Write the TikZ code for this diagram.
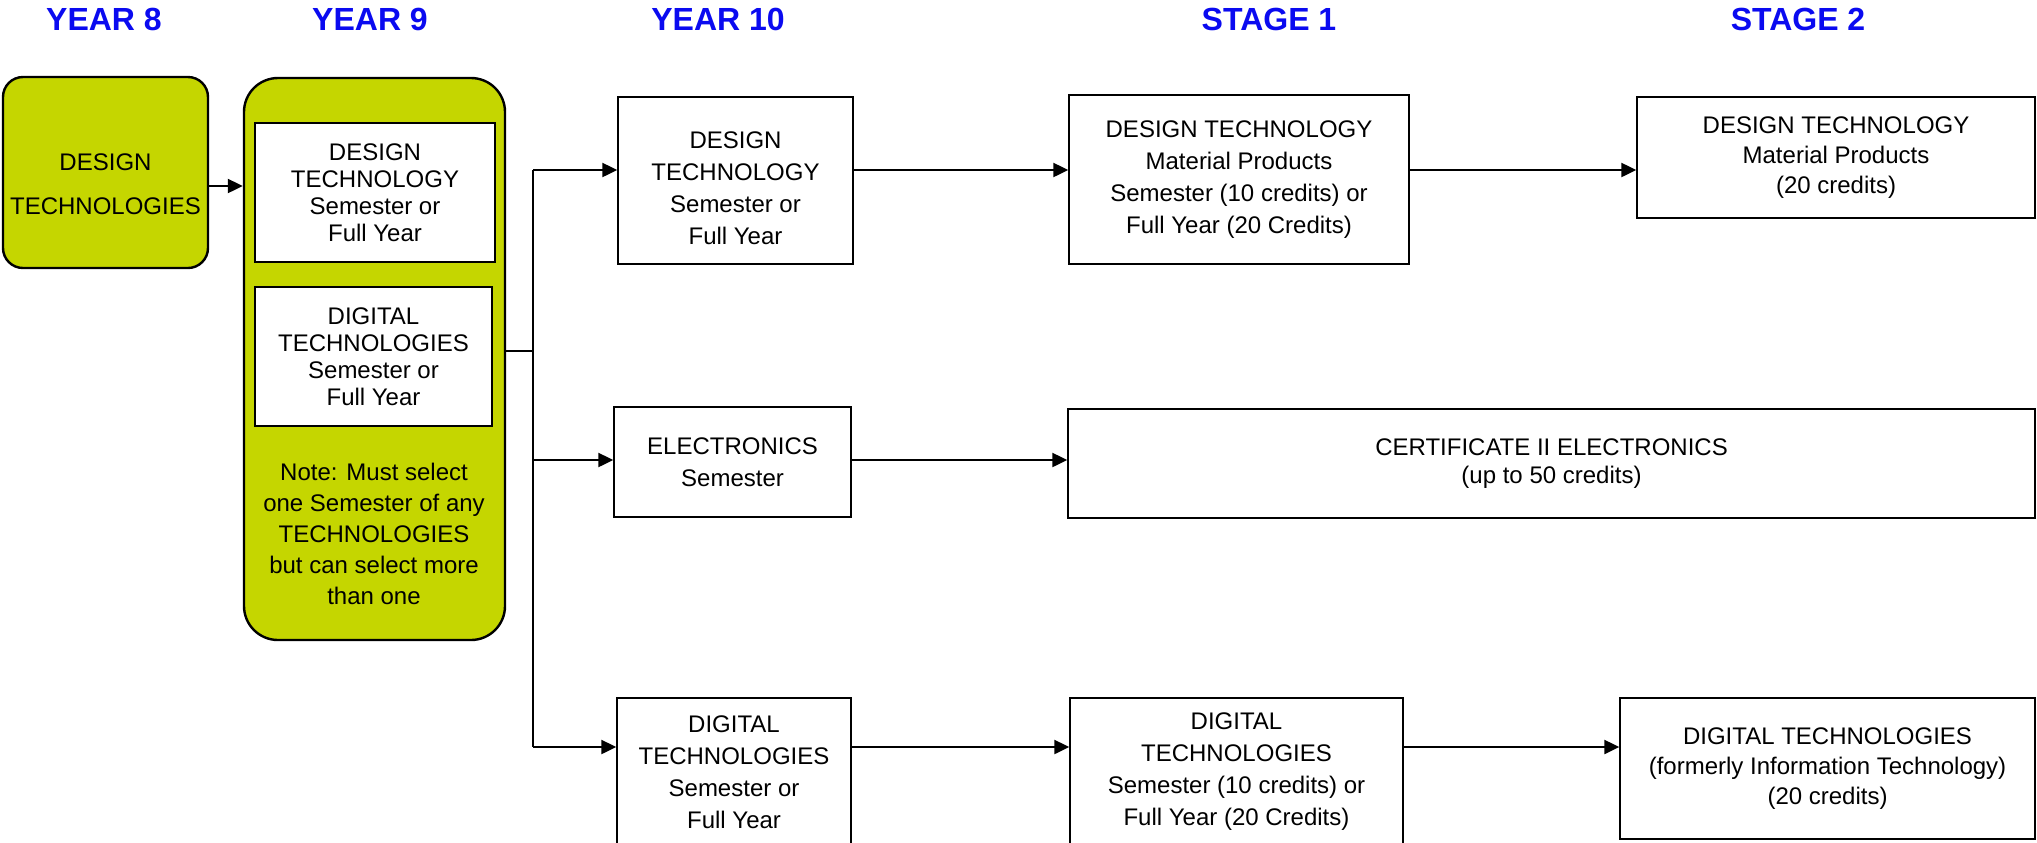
\documentclass[tikz,border=0pt]{standalone}
\usepackage{fontspec}
\setmainfont{Liberation Sans}
\usepackage{tikz}
\usetikzlibrary{arrows,arrows.meta}
\usetikzlibrary{calc, positioning}
\definecolor{limeG}{RGB}{197,214,0}
\definecolor{titleB}{RGB}{10,10,240}
\tikzset{
    yearT/.style={text=titleB, font=\fontsize{16}{18}\selectfont\bfseries},
    boxC/.style args={#1 #2}{
        draw, line width=0.7pt, fill=white, align=center, inner sep=0pt,
        minimum width=#1, minimum height=#2
    },
    boxC/.default={100pt 60pt},
    greenC/.style args={#1 #2}{
        draw, line width=1.2pt, fill=limeG, align=center, inner sep=0pt,
        minimum width=#1, minimum height=#2
    },
    txt/.style={font=\fontsize{12}{#1}\selectfont},
    txt/.default={16},
    arrC/.style={line width=1.1pt, -{Triangle[length=7.5pt,width=7pt]}},
    jline/.style={line width=1pt}
}
\begin{document}
\begin{tikzpicture}[x=0.5pt, y=-0.5pt]
    \useasboundingbox (0,0) rectangle (2037,842);
    % headings
    \node[yearT] (t8) at (104,19) {YEAR 8};
    \node[yearT] (t9) at (370,19) {YEAR 9};
    \node[yearT] (t10) at (718,19) {YEAR 10};
    \node[yearT] (ts1) at (1269,19) {STAGE 1};
    \node[yearT] (ts2) at (1798,19) {STAGE 2};
    % year 8 and year 9
    \node[greenC={102.5pt 95.5pt}, rounded corners=10pt] (y8) at (105.5,172.5) {};
    \node[align=center, txt=22] (y8txt) at ([yshift=-6pt]y8.center) {DESIGN\\TECHNOLOGIES};
    \node[greenC={130.5pt 281pt}, rounded corners=17pt] (y9) at (374.5,359) {};
    \node[boxC={120pt 69.5pt}, txt=13.5] (y9dt) at (375,192.5) {DESIGN\\TECHNOLOGY\\Semester or\\Full Year};
    \node[boxC={118.5pt 69.5pt}, txt=13.5] (y9dig) at (373.5,356.5) {DIGITAL\\TECHNOLOGIES\\Semester or\\Full Year};
    \node[align=center, txt=15.5] (note) at (374,534) {Note: Must select\\one Semester of any\\TECHNOLOGIES\\but can select more\\than one};
    % year 10
    \node[boxC={117.5pt 83.5pt}] (y10dt) at (735.5,180.5) {};
    \node[align=center, txt] (y10dtxt) at ([yshift=-4pt]y10dt.center) {DESIGN\\TECHNOLOGY\\Semester or\\Full Year};
    \node[boxC={118.5pt 55pt}, txt] (y10el) at (732.5,462) {ELECTRONICS\\Semester};
    \node[boxC={117pt 74pt}, txt] (y10dig) at (734,772) {DIGITAL\\TECHNOLOGIES\\Semester or\\Full Year};
    % stage 1
    \node[boxC={170pt 84.5pt}, txt] (s1dt) at (1239,179.5) {DESIGN TECHNOLOGY\\Material Products\\Semester (10 credits) or\\Full Year (20 Credits)};
    \node[boxC={483.5pt 54.5pt}, txt=14] (cert) at (1551.5,463.5) {CERTIFICATE II ELECTRONICS\\(up to 50 credits)};
    \node[boxC={166.5pt 74pt}, txt] (s1dig) at (1236.5,772) {DIGITAL\\TECHNOLOGIES\\Semester (10 credits) or\\Full Year (20 Credits)};
    % stage 2
    \node[boxC={199pt 60.5pt}, txt=15] (s2dt) at (1836,157.5) {DESIGN TECHNOLOGY\\Material Products\\(20 credits)};
    \node[boxC={207.5pt 70.5pt}, txt=15] (s2dig) at (1827.5,768.5) {DIGITAL TECHNOLOGIES\\(formerly Information Technology)\\(20 credits)};
    % connectors
    \coordinate (a0) at (0,186);
    \coordinate (jn) at (533,351);
    \coordinate (r1) at (533,170);
    \coordinate (r2) at (533,460);
    \coordinate (r3) at (533,747);
    \draw[arrC] (y8.east|-a0) -- (y9.west|-a0);
    \draw[jline] (y9.east|-jn) -- (jn);
    \draw[jline] (r1) -- (r3);
    \draw[arrC] (r1) -- (r1-|y10dt.west);
    \draw[arrC] (r2) -- (r2-|y10el.west);
    \draw[arrC] (r3) -- (r3-|y10dig.west);
    \draw[arrC] (r1-|y10dt.east) -- (r1-|s1dt.west);
    \draw[arrC] (r2-|y10el.east) -- (r2-|cert.west);
    \draw[arrC] (r3-|y10dig.east) -- (r3-|s1dig.west);
    \draw[arrC] (r1-|s1dt.east) -- (r1-|s2dt.west);
    \draw[arrC] (r3-|s1dig.east) -- (r3-|s2dig.west);
\end{tikzpicture}
\end{document}
